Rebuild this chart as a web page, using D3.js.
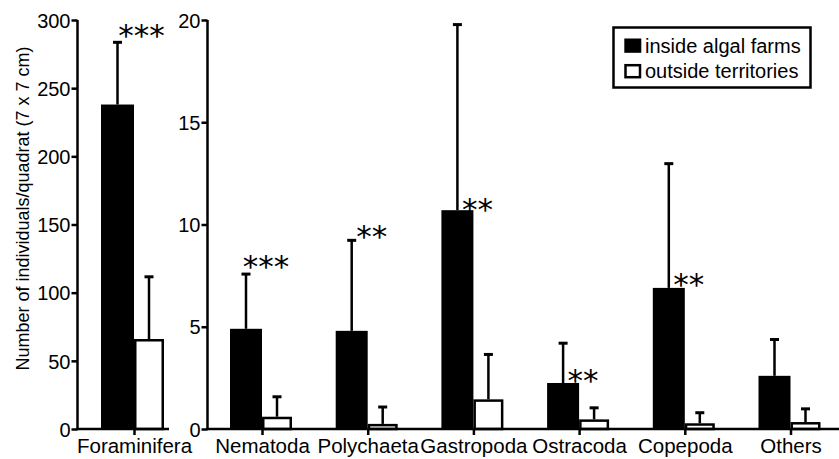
<!DOCTYPE html>
<html><head><meta charset="utf-8">
<script src="https://cdn.jsdelivr.net/npm/d3@7"></script>
<style>body{margin:0;background:#fff}svg{display:block}text{font-family:"Liberation Sans",Arial,sans-serif;fill:#000}</style>
</head><body><svg id="c" width="839" height="459"></svg>
<script>
// ---- data ----
const leftCategories = ["Foraminifera"];
const leftInside = [238];
const leftInsideErr = [284];
const leftOutside = [66];
const leftOutsideErr = [112];
const leftSig = ["***"];
const leftSigY = [294];
const leftTicks = [0, 50, 100, 150, 200, 250, 300];

const rightCategories = ["Nematoda", "Polychaeta", "Gastropoda", "Ostracoda", "Copepoda", "Others"];
const rightInside = [4.9, 4.8, 10.7, 2.25, 6.9, 2.6];
const rightInsideErr = [7.6, 9.25, 19.8, 4.22, 13.0, 4.4];
const rightOutside = [0.6, 0.25, 1.45, 0.47, 0.28, 0.34];
const rightOutsideErr = [1.6, 1.1, 3.67, 1.06, 0.82, 1.01];
const rightSig = ["***", "**", "**", "**", "**", ""];
const rightSigY = [8.31, 9.78, 11.12, 2.74, 7.41, 0];
const rightTicks = [0, 5, 10, 15, 20];

const yLabel = "Number of individuals/quadrat (7 x 7 cm)";
const legendLabels = ["inside algal farms", "outside territories"];

// ---- drawing ----
const svg = d3.select("#c");
const y0 = 429, yTop = 20, SW = 2.5, STAR = 31;

function panel(cfg) {
  const g = svg.append("g");
  const y = d3.scaleLinear().domain([0, cfg.max]).range([y0, yTop]);
  const x = d3.scalePoint().domain(cfg.cats).range(cfg.xr);
  const rows = cfg.cats.map((c, i) => ({c, a: cfg.ins[i], ae: cfg.insE[i], b: cfg.out[i], be: cfg.outE[i], s: cfg.sig[i], sy: cfg.sigY[i]}));
  const bwA = cfg.bwA, bwB = cfg.bwB;
  const eb = (cx, v, e) => {
    g.append("line").attr("x1", cx).attr("x2", cx).attr("y1", y(v)).attr("y2", y(e))
      .attr("stroke", "#000").attr("stroke-width", SW);
    g.append("line").attr("x1", cx - 4.5).attr("x2", cx + 4.5).attr("y1", y(e) + 0.5).attr("y2", y(e) + 0.5)
      .attr("stroke", "#000").attr("stroke-width", 3);
  };
  rows.forEach(r => {
    const c = x(r.c);
    eb(c - bwA / 2, r.a, r.ae);
    eb(c + bwB / 2, r.b, r.be);
  });
  g.selectAll(".ba").data(rows).join("rect")
    .attr("x", d => x(d.c) - bwA).attr("width", bwA)
    .attr("y", d => y(d.a)).attr("height", d => y0 - y(d.a)).attr("fill", "#000");
  g.selectAll(".bb").data(rows).join("rect")
    .attr("x", d => x(d.c) + SW / 2).attr("width", bwB - SW)
    .attr("y", d => y(d.b) + SW / 2).attr("height", d => Math.max(0, y0 - y(d.b) - SW / 2))
    .attr("fill", "#fff").attr("stroke", "#000").attr("stroke-width", SW);
  // significance stars
  g.selectAll(".sg").data(rows.filter(r => r.s)).join("text")
    .attr("x", d => x(d.c) + cfg.sigDx).attr("y", d => y(d.sy) + 0.58 * STAR)
    .attr("text-anchor", "middle")
    .style("font-family", "'DejaVu Sans'").style("font-size", STAR + "px")
    .text(d => d.s);
  // y axis
  const ya = d3.axisLeft(y).tickValues(cfg.ticks).tickSize(6).tickPadding(1).tickSizeOuter(0);
  const yg = g.append("g").attr("transform", `translate(${cfg.ax},0)`).call(ya);
  yg.select(".domain").attr("stroke-width", SW).attr("d", `M0,${y0}V${yTop}`);
  yg.selectAll(".tick line").attr("stroke-width", SW);
  yg.selectAll(".tick text").style("font-size", "20px").style("font-family", "'Liberation Sans',Arial,sans-serif").attr("dy", "0.36em");
  // x axis
  const xa = d3.axisBottom(x).tickSize(6).tickPadding(0).tickSizeOuter(0);
  const xg = g.append("g").attr("transform", `translate(0,${y0})`).call(xa);
  xg.select(".domain").attr("stroke-width", SW).attr("d", `M${cfg.ax - 1},0H${cfg.xEnd}`);
  xg.selectAll(".tick line").attr("stroke-width", SW);
  xg.selectAll(".tick text").style("font-size", "20.5px").style("font-family", "'Liberation Sans',Arial,sans-serif")
    .attr("y", 24).attr("dy", 0);
}

panel({cats: leftCategories, ins: leftInside, insE: leftInsideErr, out: leftOutside, outE: leftOutsideErr,
  sig: leftSig, sigY: leftSigY, max: 300, ticks: leftTicks, xr: [134, 134], ax: 77.5, xEnd: 169, bwA: 33, bwB: 30, sigDx: 7.5});
panel({cats: rightCategories, ins: rightInside, insE: rightInsideErr, out: rightOutside, outE: rightOutsideErr,
  sig: rightSig, sigY: rightSigY, max: 20, ticks: rightTicks, xr: [262, 790.5], ax: 207.5, xEnd: 839, bwA: 32, bwB: 30, sigDx: 4});

// y label
svg.append("text").attr("transform", "translate(29,208.5) rotate(-90)")
  .attr("text-anchor", "middle").style("font-size", "18px").text(yLabel);

// legend
const lg = svg.append("g");
lg.append("rect").attr("x", 613.5).attr("y", 27.5).attr("width", 197).attr("height", 60)
  .attr("fill", "#fff").attr("stroke", "#000").attr("stroke-width", SW);
legendLabels.forEach((t, i) => {
  const yy = 38.5 + i * 25.5;
  lg.append("rect").attr("x", i ? 625.5 : 624.3).attr("y", i ? yy + 1.2 : yy)
    .attr("width", i ? 14.5 : 17).attr("height", i ? 12 : 14.3)
    .attr("fill", i ? "#fff" : "#000").attr("stroke", i ? "#000" : "none").attr("stroke-width", SW);
  lg.append("text").attr("x", 645).attr("y", yy + 14).style("font-size", "20px").text(t);
});
</script></body></html>
